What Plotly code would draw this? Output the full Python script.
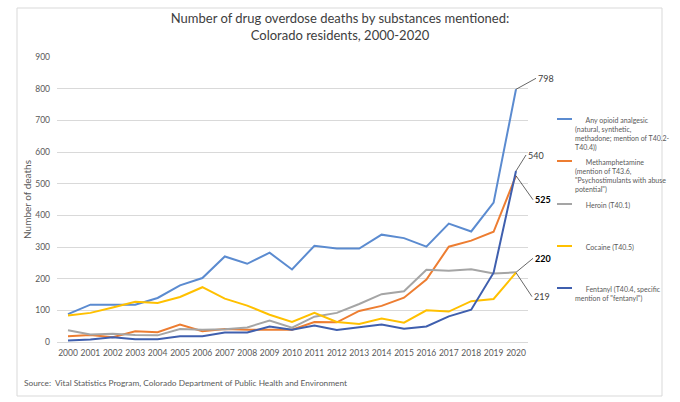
import plotly.graph_objects as go

years = list(range(2000, 2021))
opioid = [88, 118, 118, 118, 139, 179, 202, 270, 247, 282, 229, 304, 295, 295, 339, 328, 301, 374, 349, 440, 798]
meth = [18, 22, 15, 34, 31, 55, 34, 41, 39, 39, 39, 63, 62, 98, 114, 140, 197, 301, 320, 348, 525]
heroin = [37, 24, 26, 22, 21, 41, 39, 40, 46, 68, 45, 80, 92, 120, 151, 160, 228, 225, 230, 216, 220]
cocaine = [84, 92, 109, 127, 123, 142, 173, 137, 115, 86, 63, 92, 63, 57, 74, 61, 100, 96, 129, 136, 219]
fentanyl = [5, 8, 15, 9, 9, 18, 18, 30, 30, 49, 39, 52, 38, 46, 55, 42, 49, 81, 102, 219, 540]

series_names = ["Any opioid analgesic", "Methamphetamine", "Heroin", "Cocaine", "Fentanyl"]
legend_texts = [
    "\u00a0\u00a0\u00a0\u00a0\u00a0\u00a0Any opioid analgesic<br>(natural, synthetic,<br>methadone; mention of T40.2-<br>T40.4))",
    "\u00a0\u00a0\u00a0\u00a0\u00a0\u00a0Methamphetamine<br>(mention of T43.6,<br>\"Psychostimulants with abuse<br>potential\")",
    "\u00a0\u00a0\u00a0\u00a0\u00a0\u00a0Heroin (T40.1)",
    "\u00a0\u00a0\u00a0\u00a0\u00a0\u00a0Cocaine (T40.5)",
    "\u00a0\u00a0\u00a0\u00a0\u00a0\u00a0Fentanyl (T40.4, specific<br>mention of \"fentanyl\")",
]
colors = ["#5B8BD0", "#ED7D31", "#A5A5A5", "#FFC000", "#3F5FAE"]
data = [opioid, meth, heroin, cocaine, fentanyl]

W, H = 680, 402
L, R, T, B = 57, 152, 57, 60
pw, ph = W - L - R, H - T - B

def px(x):
    return (x - L) / pw

def py(y):
    return (H - B - y) / ph

fig = go.Figure()
for name, vals, c in zip(series_names, data, colors):
    fig.add_trace(go.Scatter(x=years, y=vals, mode="lines", name=name,
                             line=dict(color=c, width=2), showlegend=False))

FONT = "Lato, 'Open Sans', sans-serif"
TXT = "#595959"

# end labels
end_labels = [
    (opioid[-1], "798", 20, -11, False),
    (fentanyl[-1], "540", 10, -16, False),
    (meth[-1], "525", 17, 24, True),
    (heroin[-1], "220", 17, -14, True),
    (cocaine[-1], "219", 16, 24, False),
]
for val, txt, ax, ay, bold in end_labels:
    fig.add_annotation(x=2020, y=val, text=("<b>%s</b>" % txt) if bold else txt,
                       showarrow=True, arrowhead=0, arrowwidth=0.8, arrowcolor="#404040",
                       ax=ax, ay=ay, font=dict(size=9, color="#404040" if not bold else "#000000", family=FONT),
                       xanchor="left", yanchor="middle", standoff=0, startstandoff=0)

# legend (manual)
leg_y = [119, 161, 204, 246, 288]
for ly, t, c in zip(leg_y, legend_texts, colors):
    fig.add_shape(type="line", xref="paper", yref="paper",
                  x0=px(557), x1=px(572), y0=py(ly), y1=py(ly),
                  line=dict(color=c, width=2))
    fig.add_annotation(xref="paper", yref="paper", x=px(573), y=py(ly - 5),
                       text=t, showarrow=False, xanchor="left", yanchor="top",
                       align="left", font=dict(size=7, color=TXT, family=FONT))

# chart border
fig.add_shape(type="rect", xref="paper", yref="paper",
              x0=px(17), x1=px(662), y0=py(396), y1=py(8),
              line=dict(color="#D9D9D9", width=1), layer="below")

# source
fig.add_annotation(xref="paper", yref="paper", x=px(22), y=py(383),
                   text="Source:\u00a0\u00a0Vital Statistics Program, Colorado Department of Public Health and Environment",
                   showarrow=False, xanchor="left", yanchor="middle",
                   font=dict(size=8.3, color=TXT, family=FONT))

fig.update_layout(
    width=W, height=H,
    margin=dict(l=L, r=R, t=T, b=B),
    paper_bgcolor="white", plot_bgcolor="white",
    font=dict(family=FONT, color=TXT),
    title=dict(text="Number of drug overdose deaths by substances mentioned:<br>Colorado residents, 2000-2020",
               x=px(340), xref="paper", xanchor="center", y=1 - 23 / H, yanchor="middle",
               font=dict(size=13, color="#404040", family=FONT)),
    showlegend=False,
)
fig.update_xaxes(range=[2000 - 11 / 22.4, 2020 + 12 / 22.4], tickvals=years,
                 ticktext=[str(y) for y in years], showgrid=False, zeroline=False,
                 showline=False, ticks="", tickfont=dict(size=8.5, color=TXT), ticklabelstandoff=4)
fig.update_yaxes(range=[0, 900], tickvals=list(range(0, 1000, 100)), showgrid=True,
                 gridcolor="#D9D9D9", gridwidth=1, zeroline=True, zerolinecolor="#D9D9D9",
                 zerolinewidth=1, showline=False, ticks="", tickfont=dict(size=8.5, color=TXT),
                 ticklabelstandoff=6,
                 title=dict(text="Number of deaths", font=dict(size=10, color=TXT), standoff=1))

fig.write_html("out.html")
